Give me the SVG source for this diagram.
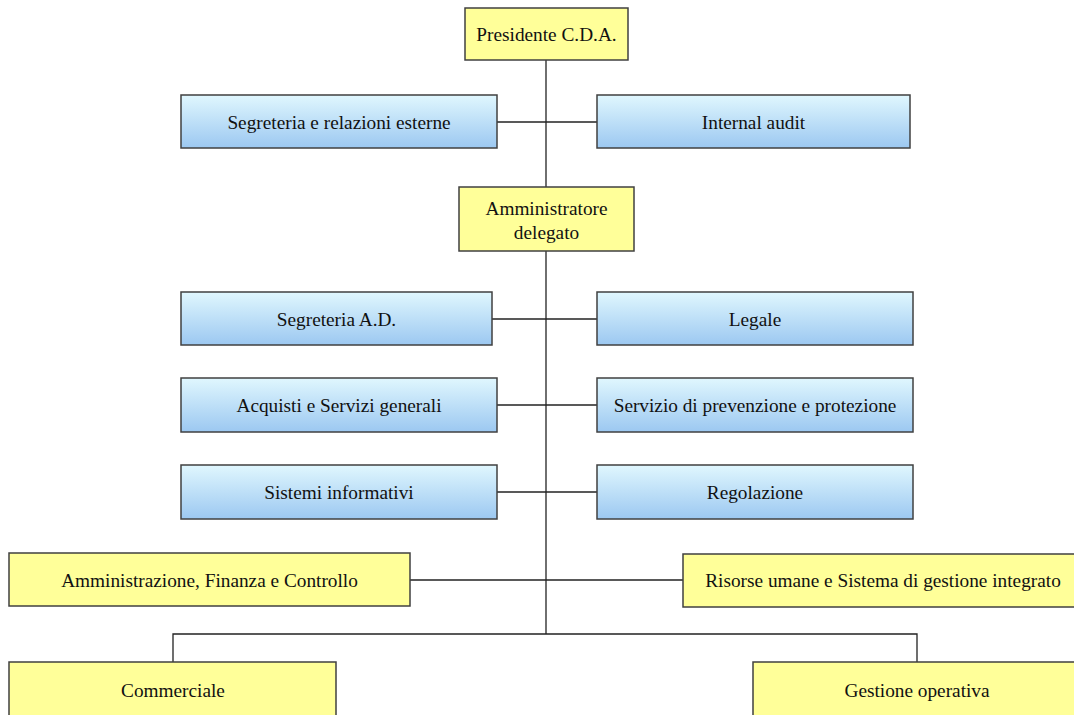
<svg xmlns="http://www.w3.org/2000/svg" width="1074" height="715" viewBox="0 0 1074 715">
<style>
.y{fill:#ffff99;stroke:#404040;stroke-width:1.5}
.b{fill:url(#gb);stroke:#404040;stroke-width:1.5}
.t{font-family:"Liberation Serif",serif;font-size:19.3px;fill:#111;text-anchor:middle;dominant-baseline:central}
.c{stroke:#222;stroke-width:1.3;fill:none}
</style>
<defs>
<linearGradient id="gb" x1="0" y1="0" x2="0" y2="1">
<stop offset="0" stop-color="#e0f7fe"/>
<stop offset="1" stop-color="#9cc8f1"/>
</linearGradient>
</defs>
<rect width="1074" height="715" fill="#fff"/>
<g id="connectors">
<path class="c" d="M546 60V634"/>
<path class="c" d="M497 122H597"/>
<path class="c" d="M492 319H597"/>
<path class="c" d="M497 405H597"/>
<path class="c" d="M497 492H597"/>
<path class="c" d="M410 580H683"/>
<path class="c" d="M173 662V634H917V662"/>
</g>
<g id="presidente"><rect class="y" x="465" y="8" width="163" height="52"/><text class="t" x="546.5" y="34">Presidente C.D.A.</text></g>
<g id="segreteria-relazioni"><rect class="b" x="181" y="95" width="316" height="53"/><text class="t" x="339" y="122">Segreteria e relazioni esterne</text></g>
<g id="internal-audit"><rect class="b" x="597" y="95" width="313" height="53"/><text class="t" x="753.5" y="122">Internal audit</text></g>
<g id="amministratore"><rect class="y" x="459" y="187" width="175" height="64"/><text class="t" x="546.5" y="208">Amministratore</text><text class="t" x="546.5" y="232">delegato</text></g>
<g id="segreteria-ad"><rect class="b" x="181" y="292" width="311" height="53"/><text class="t" x="336.5" y="319">Segreteria A.D.</text></g>
<g id="legale"><rect class="b" x="597" y="292" width="316" height="53"/><text class="t" x="755" y="319">Legale</text></g>
<g id="acquisti"><rect class="b" x="181" y="378" width="316" height="54"/><text class="t" x="339" y="405">Acquisti e Servizi generali</text></g>
<g id="servizio"><rect class="b" x="597" y="378" width="316" height="54"/><text class="t" x="755" y="405">Servizio di prevenzione e protezione</text></g>
<g id="sistemi"><rect class="b" x="181" y="465" width="316" height="54"/><text class="t" x="339" y="492">Sistemi informativi</text></g>
<g id="regolazione"><rect class="b" x="597" y="465" width="316" height="54"/><text class="t" x="755" y="492">Regolazione</text></g>
<g id="amministrazione"><rect class="y" x="9" y="553" width="401" height="53"/><text class="t" x="209.5" y="580">Amministrazione, Finanza e Controllo</text></g>
<g id="risorse"><rect class="y" x="683" y="554" width="392" height="53"/><text class="t" x="883" y="580">Risorse umane e Sistema di gestione integrato</text></g>
<g id="commerciale"><rect class="y" x="9" y="662" width="327" height="60"/><text class="t" x="173" y="690">Commerciale</text></g>
<g id="gestione"><rect class="y" x="753" y="662" width="325" height="60"/><text class="t" x="917" y="690">Gestione operativa</text></g>
</svg>
